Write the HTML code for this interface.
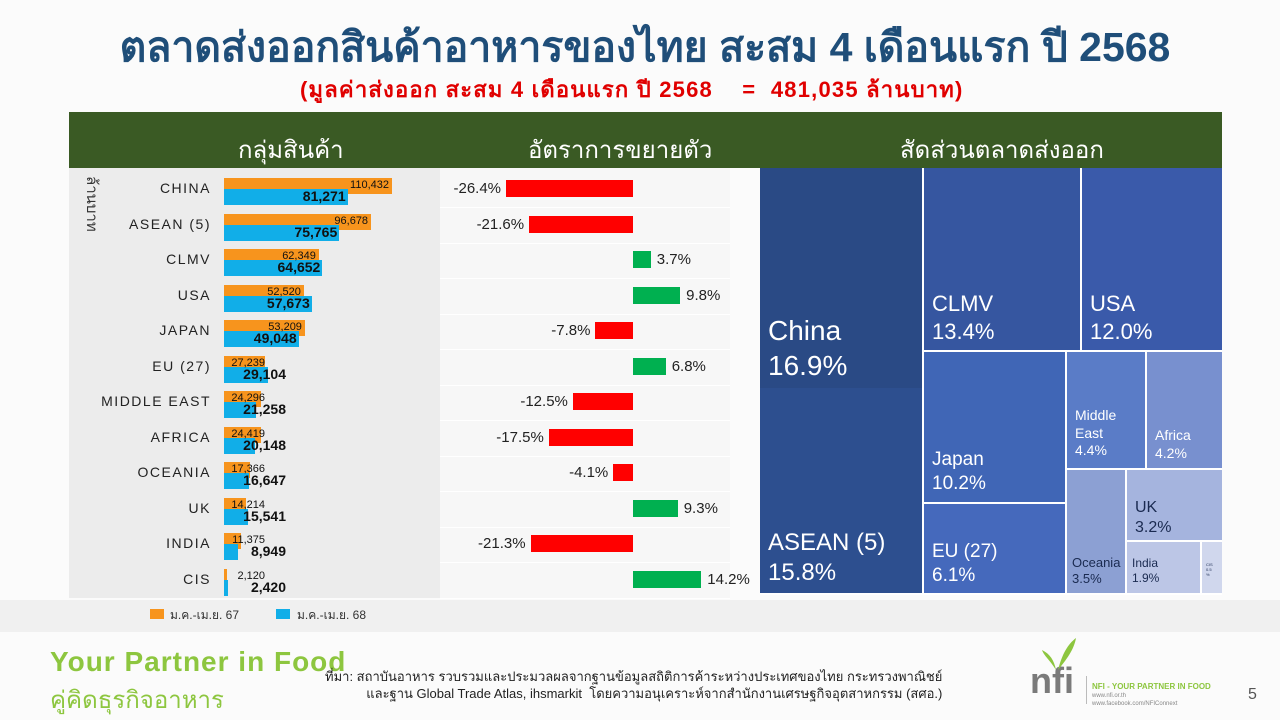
<!DOCTYPE html>
<html><head><meta charset="utf-8"><style>
*{margin:0;padding:0;box-sizing:border-box}
body{width:1280px;height:720px;overflow:hidden;background:#fbfbfb;font-family:"Liberation Sans","Noto Sans CJK SC",sans-serif;position:relative}
.a{position:absolute}
.t{white-space:nowrap}
</style></head><body>
<div class="a" style="left:0;top:600px;width:1280px;height:32px;background:#f0f0f0"></div>
<div class="a t" style="left:0;width:1280px;top:15px;text-align:center;font-size:41px;font-weight:bold;color:#1f4e79;padding-left:10px">ตลาดส่งออกสินค้าอาหารของไทย สะสม 4 เดือนแรก ปี 2568</div>
<div class="a t" style="left:300px;top:72px;font-size:22px;font-weight:bold;color:#e00000;letter-spacing:1.2px">(มูลค่าส่งออก สะสม 4 เดือนแรก ปี 2568 &nbsp;&nbsp;&nbsp;= &nbsp;481,035 ล้านบาท)</div>
<div class="a" style="left:69px;top:112px;width:1153px;height:56px;background:#3a5a24"></div>
<div class="a t" style="left:238px;top:130px;font-size:24px;color:#fff">กลุ่มสินค้า</div>
<div class="a t" style="left:528px;top:130px;font-size:24px;color:#fff">อัตราการขยายตัว</div>
<div class="a t" style="left:900px;top:130px;font-size:24px;color:#fff">สัดส่วนตลาดส่งออก</div>
<div class="a" style="left:69px;top:168px;width:371px;height:430px;background:#ececec"></div>
<div class="a" style="left:440px;top:168px;width:290px;height:430px;background:#f7f7f7"></div>
<div class="a t" style="top:176px;font-size:15px;color:#333;transform:rotate(90deg);transform-origin:left top;left:104px">ล้านบาท</div>
<div id="rows"></div>
<div class="a" style="left:150px;top:609px;width:14px;height:10px;background:#f7941d"></div>
<div class="a t" style="left:170px;top:606px;font-size:12px;color:#333">ม.ค.-เม.ย. 67</div>
<div class="a" style="left:276px;top:609px;width:14px;height:10px;background:#11aee8"></div>
<div class="a t" style="left:297px;top:606px;font-size:12px;color:#333">ม.ค.-เม.ย. 68</div>
<div class="a" style="left:760px;top:168px;width:462px;height:427px;background:#fff"></div>
<div id="tm"></div>
<div class="a t" style="left:50px;top:646px;font-size:28px;font-weight:bold;color:#8dc63f;letter-spacing:1px">Your Partner in Food</div>
<div class="a t" style="left:50px;top:680px;font-size:24px;color:#8dc63f">คู่คิดธุรกิจอาหาร</div>
<div class="a t" style="left:325px;top:668px;font-size:13px;color:#222;line-height:17px;text-align:right">ที่มา: สถาบันอาหาร รวบรวมและประมวลผลจากฐานข้อมูลสถิติการค้าระหว่างประเทศของไทย กระทรวงพาณิชย์<br>และฐาน Global Trade Atlas, ihsmarkit &nbsp;โดยความอนุเคราะห์จากสำนักงานเศรษฐกิจอุตสาหกรรม (สศอ.)</div>
<div class="a t" style="left:1030px;top:660px;font-size:36px;font-weight:bold;color:#7a7a7a">nfi</div>
<svg class="a" style="left:1040px;top:636px" width="40" height="36"><path d="M16 34 C10 24 4 20 2 14 C10 18 14 24 16 34 Z M18 34 C22 18 28 8 36 2 C34 14 26 24 18 34Z" fill="#8dc63f"/></svg>
<div class="a" style="left:1086px;top:676px;width:1px;height:28px;background:#bbb"></div>
<div class="a t" style="left:1092px;top:682px;font-size:8px;font-weight:bold;color:#8dc63f">NFI - YOUR PARTNER IN FOOD</div>
<div class="a t" style="left:1092px;top:692px;font-size:6px;color:#888;line-height:8px">www.nfi.or.th<br>www.facebook.com/NFIConnext</div>
<div class="a t" style="left:1248px;top:686px;font-size:16px;color:#555">5</div>
<script>
var d=[["CHINA",110432,81271,-26.4],["ASEAN (5)",96678,75765,-21.6],["CLMV",62349,64652,3.7],["USA",52520,57673,9.8],["JAPAN",53209,49048,-7.8],["EU (27)",27239,29104,6.8],["MIDDLE EAST",24296,21258,-12.5],["AFRICA",24419,20148,-17.5],["OCEANIA",17366,16647,-4.1],["UK",14214,15541,9.3],["INDIA",11375,8949,-21.3],["CIS",2120,2420,14.2]];
var h="",f=n=>n.toLocaleString("en-US"),s=168/110432;
d.forEach((r,i)=>{var c=189+i*35.5;
h+=`<div class="a t" style="left:70px;width:141px;text-align:right;top:${c-9}px;font-size:14px;letter-spacing:1.5px;color:#222">${r[0]}</div>`;
h+=`<div class="a" style="left:224px;top:${c-11}px;width:${r[1]*s}px;height:16px;background:#f7941d"></div>`;
h+=`<div class="a" style="left:224px;top:${c}px;width:${r[2]*s}px;height:16px;background:#11aee8"></div>`;
var e1=224+r[1]*s,e2=224+r[2]*s;
h+=`<div class="a t" style="left:${Math.max(e1,268)-55}px;width:52px;text-align:right;top:${c-10}px;font-size:11px;color:#111">${f(r[1])}</div>`;
h+=`<div class="a t" style="left:${Math.max(e2,288)-80}px;width:78px;text-align:right;top:${c-1}px;font-size:14px;font-weight:bold;color:#111">${f(r[2])}</div>`;
h+=`<div class="a" style="left:440px;top:${c+18}px;width:290px;height:1px;background:#fff"></div>`;
var w=Math.abs(r[3])*4.81,g=r[3]<0;
h+=`<div class="a" style="left:${g?633-w:633}px;top:${c-9}px;width:${w}px;height:17px;background:${g?'#ff0000':'#00b050'}"></div>`;
var lab=r[3].toFixed(1)+"%";
h+=g?`<div class="a t" style="left:${633-w-70}px;width:65px;text-align:right;top:${c-9}px;font-size:15px;color:#222">${lab}</div>`:`<div class="a t" style="left:${633+w+6}px;top:${c-9}px;font-size:15px;color:#222">${lab}</div>`;
});
document.getElementById("rows").innerHTML=h;
var t=[[760,168,922,388,"#2a4a85","China","16.9%",28,145],[760,388,922,593,"#2d4f8f","ASEAN (5)","15.8%",24,140],[924,168,1080,350,"#3656a0","CLMV","13.4%",22,122],[1082,168,1222,350,"#3a5aaa","USA","12.0%",22,122],[924,352,1065,502,"#4066b6","Japan","10.2%",19,96],[924,504,1065,593,"#4569bc","EU (27)","6.1%",19,36],[1067,352,1145,468,"#5a7cc7","Middle<br>East","4.4%",14,55],[1147,352,1222,468,"#7890cf","Africa","4.2%",14,75],[1067,470,1125,593,"#8ca0d3","Oceania","3.5%",13,85],[1127,470,1222,540,"#a5b4de","UK","3.2%",16,28],[1127,542,1200,593,"#bcc6e6","India","1.9%",12,14],[1202,542,1222,593,"#d0d7ed","CIS<br>0.5<br>%","",4,20]];
var m="";t.forEach(q=>{
m+=`<div class="a" style="left:${q[0]}px;top:${q[1]}px;width:${q[2]-q[0]}px;height:${q[3]-q[1]}px;background:${q[4]}"><div style="position:absolute;left:${q[7]<10?4:(q[7]<14?5:8)}px;top:${q[8]}px;font-size:${q[7]}px;line-height:1.25;color:${q[0]>=1067&&q[1]>=470?'#1a2a50':'#fff'};white-space:nowrap">${q[5]}${q[6]?'<br>'+q[6]:''}</div></div>`;});
document.getElementById("tm").innerHTML=m;
</script>
</body></html>
